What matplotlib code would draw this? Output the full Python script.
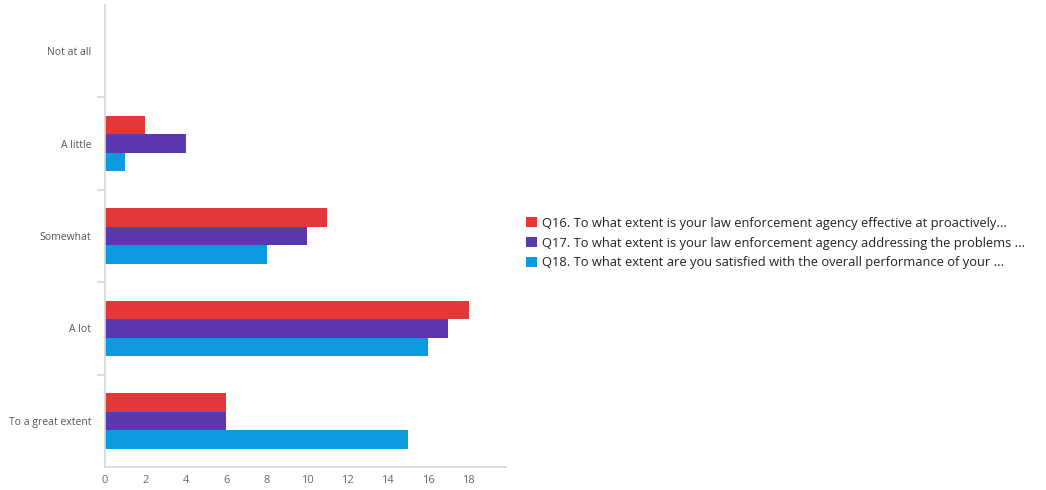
import matplotlib
matplotlib.use("Agg")
import matplotlib.pyplot as plt
import numpy as np

categories = ["Not at all", "A little", "Somewhat", "A lot", "To a great extent"]
q16 = [0, 2, 11, 18, 6]
q17 = [0, 4, 10, 17, 6]
q18 = [0, 1, 8, 16, 15]
series_labels = [
    "Q16. To what extent is your law enforcement agency effective at proactively...",
    "Q17. To what extent is your law enforcement agency addressing the problems ...",
    "Q18. To what extent are you satisfied with the overall performance of your ...",
]
colors = ["#e2383a", "#5b37b0", "#0b9ae0"]
xticks = [0, 2, 4, 6, 8, 10, 12, 14, 16, 18]

plt.rcParams['font.family'] = ['Open Sans', 'DejaVu Sans']

fig = plt.figure(figsize=(10.46, 4.90), dpi=100)
ax = fig.add_axes([0.1004, 0.0469, 0.3833, 0.9429])

y = np.arange(len(categories))
h = 0.2
for k, (vals, col, lab) in enumerate(zip([q16, q17, q18], colors, series_labels)):
    ax.barh(y + (k - 1) * h, vals, height=h, color=col, label=lab)

ax.set_ylim(len(categories) - 0.5, -0.5)
ax.set_xlim(0, 19.85)
ax.set_yticks(y)
ax.set_yticklabels(categories)
ax.set_yticks(np.arange(0.5, len(categories) - 0.5, 1), minor=True)
ax.set_xticks(xticks)

grey = "#d6d6d6"
for s in ["top", "right"]:
    ax.spines[s].set_visible(False)
for s in ["left", "bottom"]:
    ax.spines[s].set_color(grey)
    ax.spines[s].set_linewidth(1.2)

ax.tick_params(axis="y", which="major", length=0, pad=10, labelsize=7.5, labelcolor="#555555")
ax.tick_params(axis="y", which="minor", length=6, color=grey, width=1.2)
ax.tick_params(axis="x", length=0, pad=6, labelsize=8, labelcolor="#666666")

fig.legend(loc="center left", bbox_to_anchor=(0.492, 0.504), frameon=False,
           fontsize=9.3, handlelength=0.8, handleheight=0.8, handletextpad=0.4,
           labelspacing=0.52, labelcolor="#222222")

fig.savefig("out.png", dpi=100)
